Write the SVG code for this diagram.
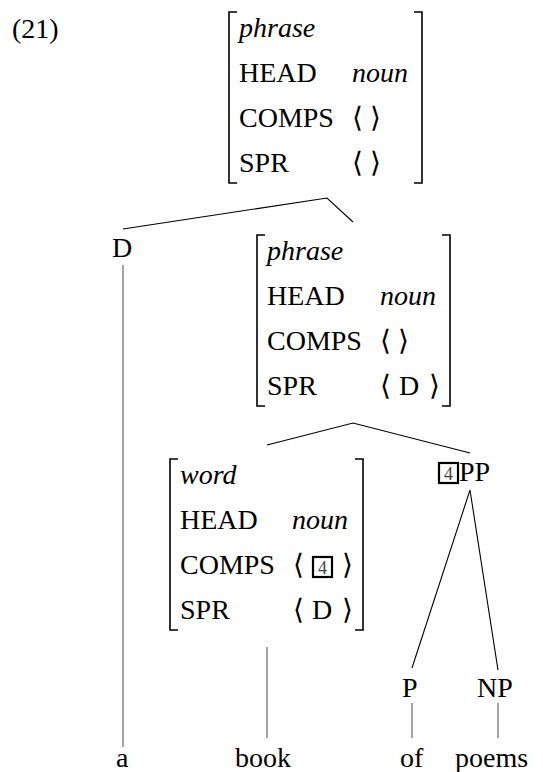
<svg xmlns="http://www.w3.org/2000/svg" width="543" height="772" viewBox="0 0 543 772">
<g id="label" style="font-family:'Liberation Serif',serif;font-size:28px">
<text x="12" y="38" style="font-family:'Liberation Serif',serif">(21)</text>
</g>
<g id="root" style="font-family:'Liberation Serif',serif;font-size:28px">
<path d="M237,12 H229 V183 H237 M414,12 H422 V183 H414" fill="none" stroke="#000" stroke-width="1.6"/>
<text style="font-family:'Liberation Serif',serif;font-style:italic" x="239" y="37">phrase</text>
<text style="font-family:'Liberation Serif',serif" x="239" y="82">HEAD</text>
<text style="font-family:'Liberation Serif',serif;font-style:italic" x="352" y="82">noun</text>
<text style="font-family:'Liberation Serif',serif" x="239" y="127">COMPS</text>
<text style="font-family:'Liberation Serif',serif" x="352" y="127">⟨</text>
<text style="font-family:'Liberation Serif',serif" x="370" y="127">⟩</text>
<text style="font-family:'Liberation Serif',serif" x="239" y="172">SPR</text>
<text style="font-family:'Liberation Serif',serif" x="352" y="172">⟨</text>
<text style="font-family:'Liberation Serif',serif" x="370" y="172">⟩</text>
</g>
<g id="D" style="font-family:'Liberation Serif',serif;font-size:28px"><text style="font-family:'Liberation Serif',serif" x="112" y="257">D</text></g>
<g id="nbar" style="font-family:'Liberation Serif',serif;font-size:28px">
<path d="M265,235 H257 V406 H265 M442,235 H450 V406 H442" fill="none" stroke="#000" stroke-width="1.6"/>
<text style="font-family:'Liberation Serif',serif;font-style:italic" x="267" y="260">phrase</text>
<text style="font-family:'Liberation Serif',serif" x="267" y="305">HEAD</text>
<text style="font-family:'Liberation Serif',serif;font-style:italic" x="380" y="305">noun</text>
<text style="font-family:'Liberation Serif',serif" x="267" y="350">COMPS</text>
<text style="font-family:'Liberation Serif',serif" x="380" y="350">⟨</text>
<text style="font-family:'Liberation Serif',serif" x="398" y="350">⟩</text>
<text style="font-family:'Liberation Serif',serif" x="267" y="395">SPR</text>
<text style="font-family:'Liberation Serif',serif" x="380" y="395">⟨</text>
<text style="font-family:'Liberation Serif',serif" x="399" y="395">D</text>
<text style="font-family:'Liberation Serif',serif" x="429" y="395">⟩</text>
</g>
<g id="noun" style="font-family:'Liberation Serif',serif;font-size:28px">
<path d="M178,459 H170 V630 H178 M355,459 H363 V630 H355" fill="none" stroke="#000" stroke-width="1.6"/>
<text style="font-family:'Liberation Serif',serif;font-style:italic" x="180" y="484">word</text>
<text style="font-family:'Liberation Serif',serif" x="180" y="529">HEAD</text>
<text style="font-family:'Liberation Serif',serif;font-style:italic" x="292" y="529">noun</text>
<text style="font-family:'Liberation Serif',serif" x="180" y="574">COMPS</text>
<text style="font-family:'Liberation Serif',serif" x="293" y="574">⟨</text>
<rect x="313" y="557" width="19" height="20" fill="none" stroke="#000" stroke-width="2.2"/>
<text style="font-family:'Liberation Serif',serif;font-size:18px;fill:#444" x="318" y="574">4</text>
<text style="font-family:'Liberation Serif',serif" x="342" y="574">⟩</text>
<text style="font-family:'Liberation Serif',serif" x="180" y="619">SPR</text>
<text style="font-family:'Liberation Serif',serif" x="293" y="619">⟨</text>
<text style="font-family:'Liberation Serif',serif" x="312" y="619">D</text>
<text style="font-family:'Liberation Serif',serif" x="342" y="619">⟩</text>
</g>
<g id="PP" style="font-family:'Liberation Serif',serif;font-size:28px">
<rect x="439" y="463" width="19" height="20" fill="none" stroke="#000" stroke-width="2.2"/>
<text style="font-family:'Liberation Serif',serif;font-size:18px;fill:#444" x="444" y="480">4</text>
<text style="font-family:'Liberation Serif',serif" x="459" y="481">PP</text>
</g>
<g id="P" style="font-size:28px"><text style="font-family:'Liberation Serif',serif" x="402" y="697">P</text></g>
<g id="NP" style="font-size:28px"><text style="font-family:'Liberation Serif',serif" x="477" y="697">NP</text></g>
<g id="w-a" style="font-size:28px"><text style="font-family:'Liberation Serif',serif" x="116" y="767">a</text></g>
<g id="w-book" style="font-size:28px"><text style="font-family:'Liberation Serif',serif" x="235" y="767">book</text></g>
<g id="w-of" style="font-size:28px"><text style="font-family:'Liberation Serif',serif" x="400" y="767">of</text></g>
<g id="w-poems" style="font-size:28px"><text style="font-family:'Liberation Serif',serif" x="455" y="767">poems</text></g>
<g id="connectors" fill="none">
<path d="M123,229 L327,198 L353,222" stroke="#000" stroke-width="1.1"/>
<path d="M267,445 L353,423 L470,453" stroke="#000" stroke-width="1.1"/>
<path d="M412,668 L470,490 L498,670" stroke="#000" stroke-width="1.1"/>
<path d="M123,265 V747 M267,647 V738 M412,703 V738 M498,703 V738" stroke="#666" stroke-width="1.2"/>
</g>
</svg>
